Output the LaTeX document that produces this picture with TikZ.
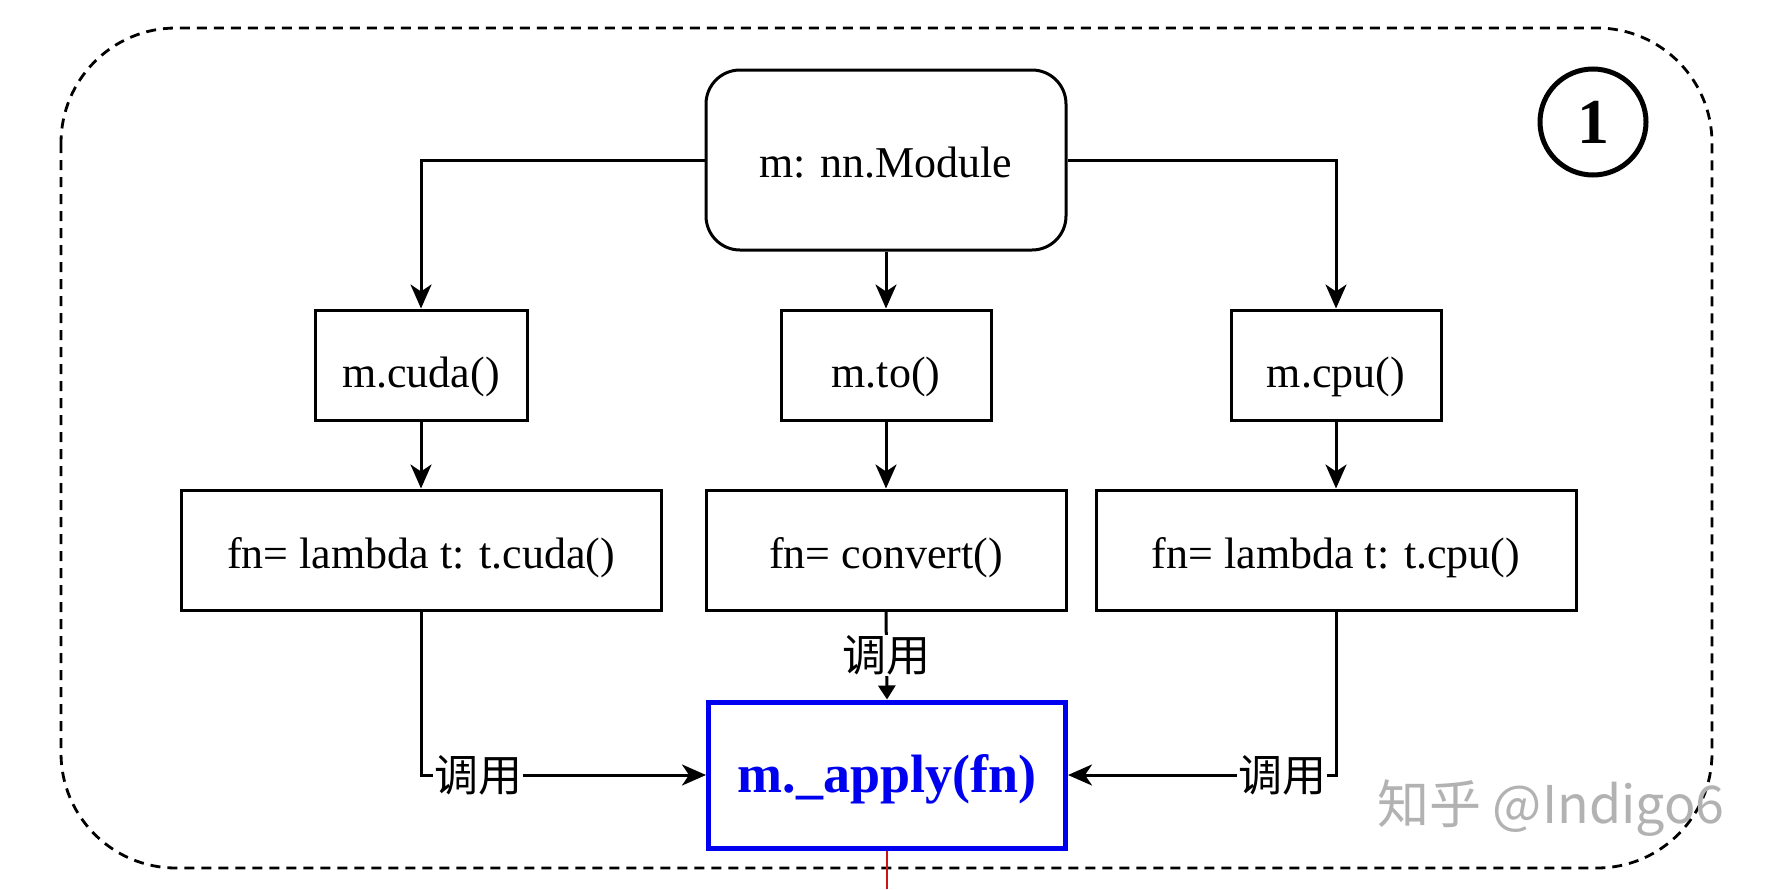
\documentclass[tikz,border=0pt]{standalone}
\usepackage{fontspec}
\setmainfont{Liberation Serif}
\newfontfamily\cjk{Noto Sans CJK SC}
\usetikzlibrary{arrows.meta}
\definecolor{applyblue}{RGB}{0,0,240}
\definecolor{redline}{RGB}{204,20,20}
\begin{document}
\begin{tikzpicture}[x=1pt,y=-1pt,
  box/.style={draw, line width=3pt, font=\fontsize{44}{52}\selectfont, inner sep=0pt,
    text height=40pt, text depth=4pt},
  midbox/.style={box, text height=44pt, text depth=0pt},
  conn/.style={line width=3pt, -{Stealth[length=24pt,width=21pt,inset=7pt]}},
  lbl/.style={fill=white, font=\cjk\fontsize{44}{50}\selectfont, inner sep=1pt}]
\useasboundingbox (0,0) rectangle (1772,889);

\draw[line width=2.8pt, dash pattern=on 10pt off 7pt, rounded corners=115pt] (61,28) rectangle (1712,868);

\node[box, rounded corners=34pt, minimum width=360pt, minimum height=180pt,
  text height=37pt, text depth=3pt] (mod) at (886,160) {m: nn.Module};

\node[midbox, minimum width=212pt, minimum height=110pt] (cuda) at (421,365) {m.cuda()};
\node[midbox, minimum width=210pt, minimum height=110pt] (to) at (886,365) {m.to()};
\node[midbox, minimum width=210pt, minimum height=110pt] (cpu) at (1336,365) {m.cpu()};

\node[box, minimum width=480pt, minimum height=120pt] (cudafn) at (421,550) {fn= lambda t: t.cuda()};
\node[box, minimum width=360pt, minimum height=120pt] (convfn) at (886,550) {fn= convert()};
\node[box, minimum width=480pt, minimum height=120pt] (cpufn) at (1336,550) {fn= lambda t: t.cpu()};

\node[draw=applyblue, line width=5pt, minimum width=357pt, minimum height=146pt, inner sep=0pt,
  text=applyblue, font=\bfseries\fontsize{54}{60}\selectfont,
  text height=40pt, text depth=6pt] (apply) at (887,775) {m.\_apply(fn)};

\node[draw, circle, line width=5pt, minimum size=106pt, inner sep=0pt,
  font=\bfseries\fontsize{64}{64}\selectfont] (one) at (1593,122) {1};

\draw[conn] (mod.west) -| (cuda.north);
\draw[conn] (mod.east) -| (cpu.north);
\draw[conn] (mod.south) -- (to.north);
\draw[conn] (cuda.south) -- (cudafn.north);
\draw[conn] (to.south) -- (convfn.north);
\draw[conn] (cpu.south) -- (cpufn.north);

\draw[conn] (cudafn.south) |- node[lbl, pos=0.6] {调用} (apply.west);
\draw[conn] (cpufn.south) |- node[lbl, pos=0.6] {调用} (apply.east);
\draw[line width=3pt, -{Triangle[length=14pt,width=17pt]}] (convfn.south) -- node[lbl] {调用} (apply.north);

\coordinate (redend) at (887,889);
\draw[redline, line width=2pt] (apply.south) -- (redend);

\node[text=black!30, font=\cjk\fontsize{52}{52}\selectfont, inner sep=0pt] (wm) at (1551,808) {知乎 @Indigo6};
\end{tikzpicture}
\end{document}
